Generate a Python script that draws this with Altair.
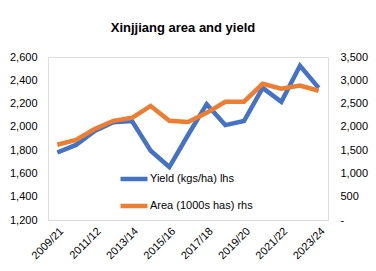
import altair as alt
import pandas as pd

seasons = ["2009/21", "2010/11", "2011/12", "2012/13", "2013/14", "2014/15", "2015/16",
           "2016/17", "2017/18", "2018/19", "2019/20", "2020/21", "2021/22", "2022/23", "2023/24"]
yield_kgs_ha = [1780, 1845, 1965, 2040, 2050, 1795, 1655, 1930, 2195, 2015, 2050, 2335, 2215, 2525, 2335]
area_1000ha = [1615, 1720, 1955, 2130, 2195, 2450, 2130, 2105, 2300, 2540, 2540, 2925, 2820, 2885, 2775]
shown_labels = seasons[::2]

yield_name = "Yield (kgs/ha) lhs"
area_name = "Area (1000s has) rhs"

df = pd.DataFrame({"season": seasons, "yield": yield_kgs_ha, "area": area_1000ha})

FONT = "Liberation Sans, Arial, sans-serif"

x = alt.X("season:N", sort=seasons,
          scale=alt.Scale(type="point", padding=0.5),
          axis=alt.Axis(title=None, values=shown_labels, labelAngle=-45, ticks=False,
                        domain=True, domainColor="#d9d9d9", domainWidth=1,
                        labelFont=FONT, labelFontSize=11, labelColor="#000000",
                        labelPadding=5, grid=False))

color = alt.Color("series:N",
                  scale=alt.Scale(domain=[yield_name, area_name], range=["#4472C4", "#ED7D31"]),
                  legend=alt.Legend(title=None, orient="none", legendX=70, legendY=112,
                                    symbolType="stroke", symbolSize=729, symbolStrokeWidth=4.5,
                                    labelFont=FONT, labelFontSize=11, labelColor="#000000",
                                    labelOffset=0, clipHeight=20, rowPadding=7, padding=0))

yield_line = alt.Chart(df).transform_calculate(series=f"'{yield_name}'").mark_line(strokeWidth=4.5).encode(
    x=x,
    y=alt.Y("yield:Q", scale=alt.Scale(domain=[1200, 2600], nice=False, zero=False),
            axis=alt.Axis(title=None, orient="left", values=list(range(1200, 2601, 200)),
                          format=",d", ticks=False, domain=False, grid=False,
                          labelFont=FONT, labelFontSize=11, labelColor="#000000", labelPadding=11)),
    color=color,
)

area_line = alt.Chart(df).transform_calculate(series=f"'{area_name}'").mark_line(strokeWidth=4.5).encode(
    x=x,
    y=alt.Y("area:Q", scale=alt.Scale(domain=[0, 3500], nice=False),
            axis=alt.Axis(title=None, orient="right", values=list(range(0, 3501, 500)),
                          labelExpr="datum.value == 0 ? '-' : format(datum.value, ',d')",
                          ticks=False, domain=False, grid=False, labelOverlap=False,
                          labelFont=FONT, labelFontSize=11, labelColor="#000000", labelPadding=12)),
    color=color,
)

chart = alt.layer(yield_line, area_line).resolve_scale(y="independent").properties(
    width=280, height=163,
    title=alt.TitleParams("Xinjjiang area and yield", font="Liberation Sans, Arial",
                          fontSize=13, fontWeight=900, color="#000000", anchor="middle",
                          offset=16, dx=-5),
    autosize=alt.AutoSizeParams(type="none"),
    padding={"left": 48, "top": 57, "right": 48, "bottom": 51},
).configure_view(stroke=None).configure(background="#ffffff")

chart.save("out.html", embed_options={"renderer": "svg", "actions": False})
